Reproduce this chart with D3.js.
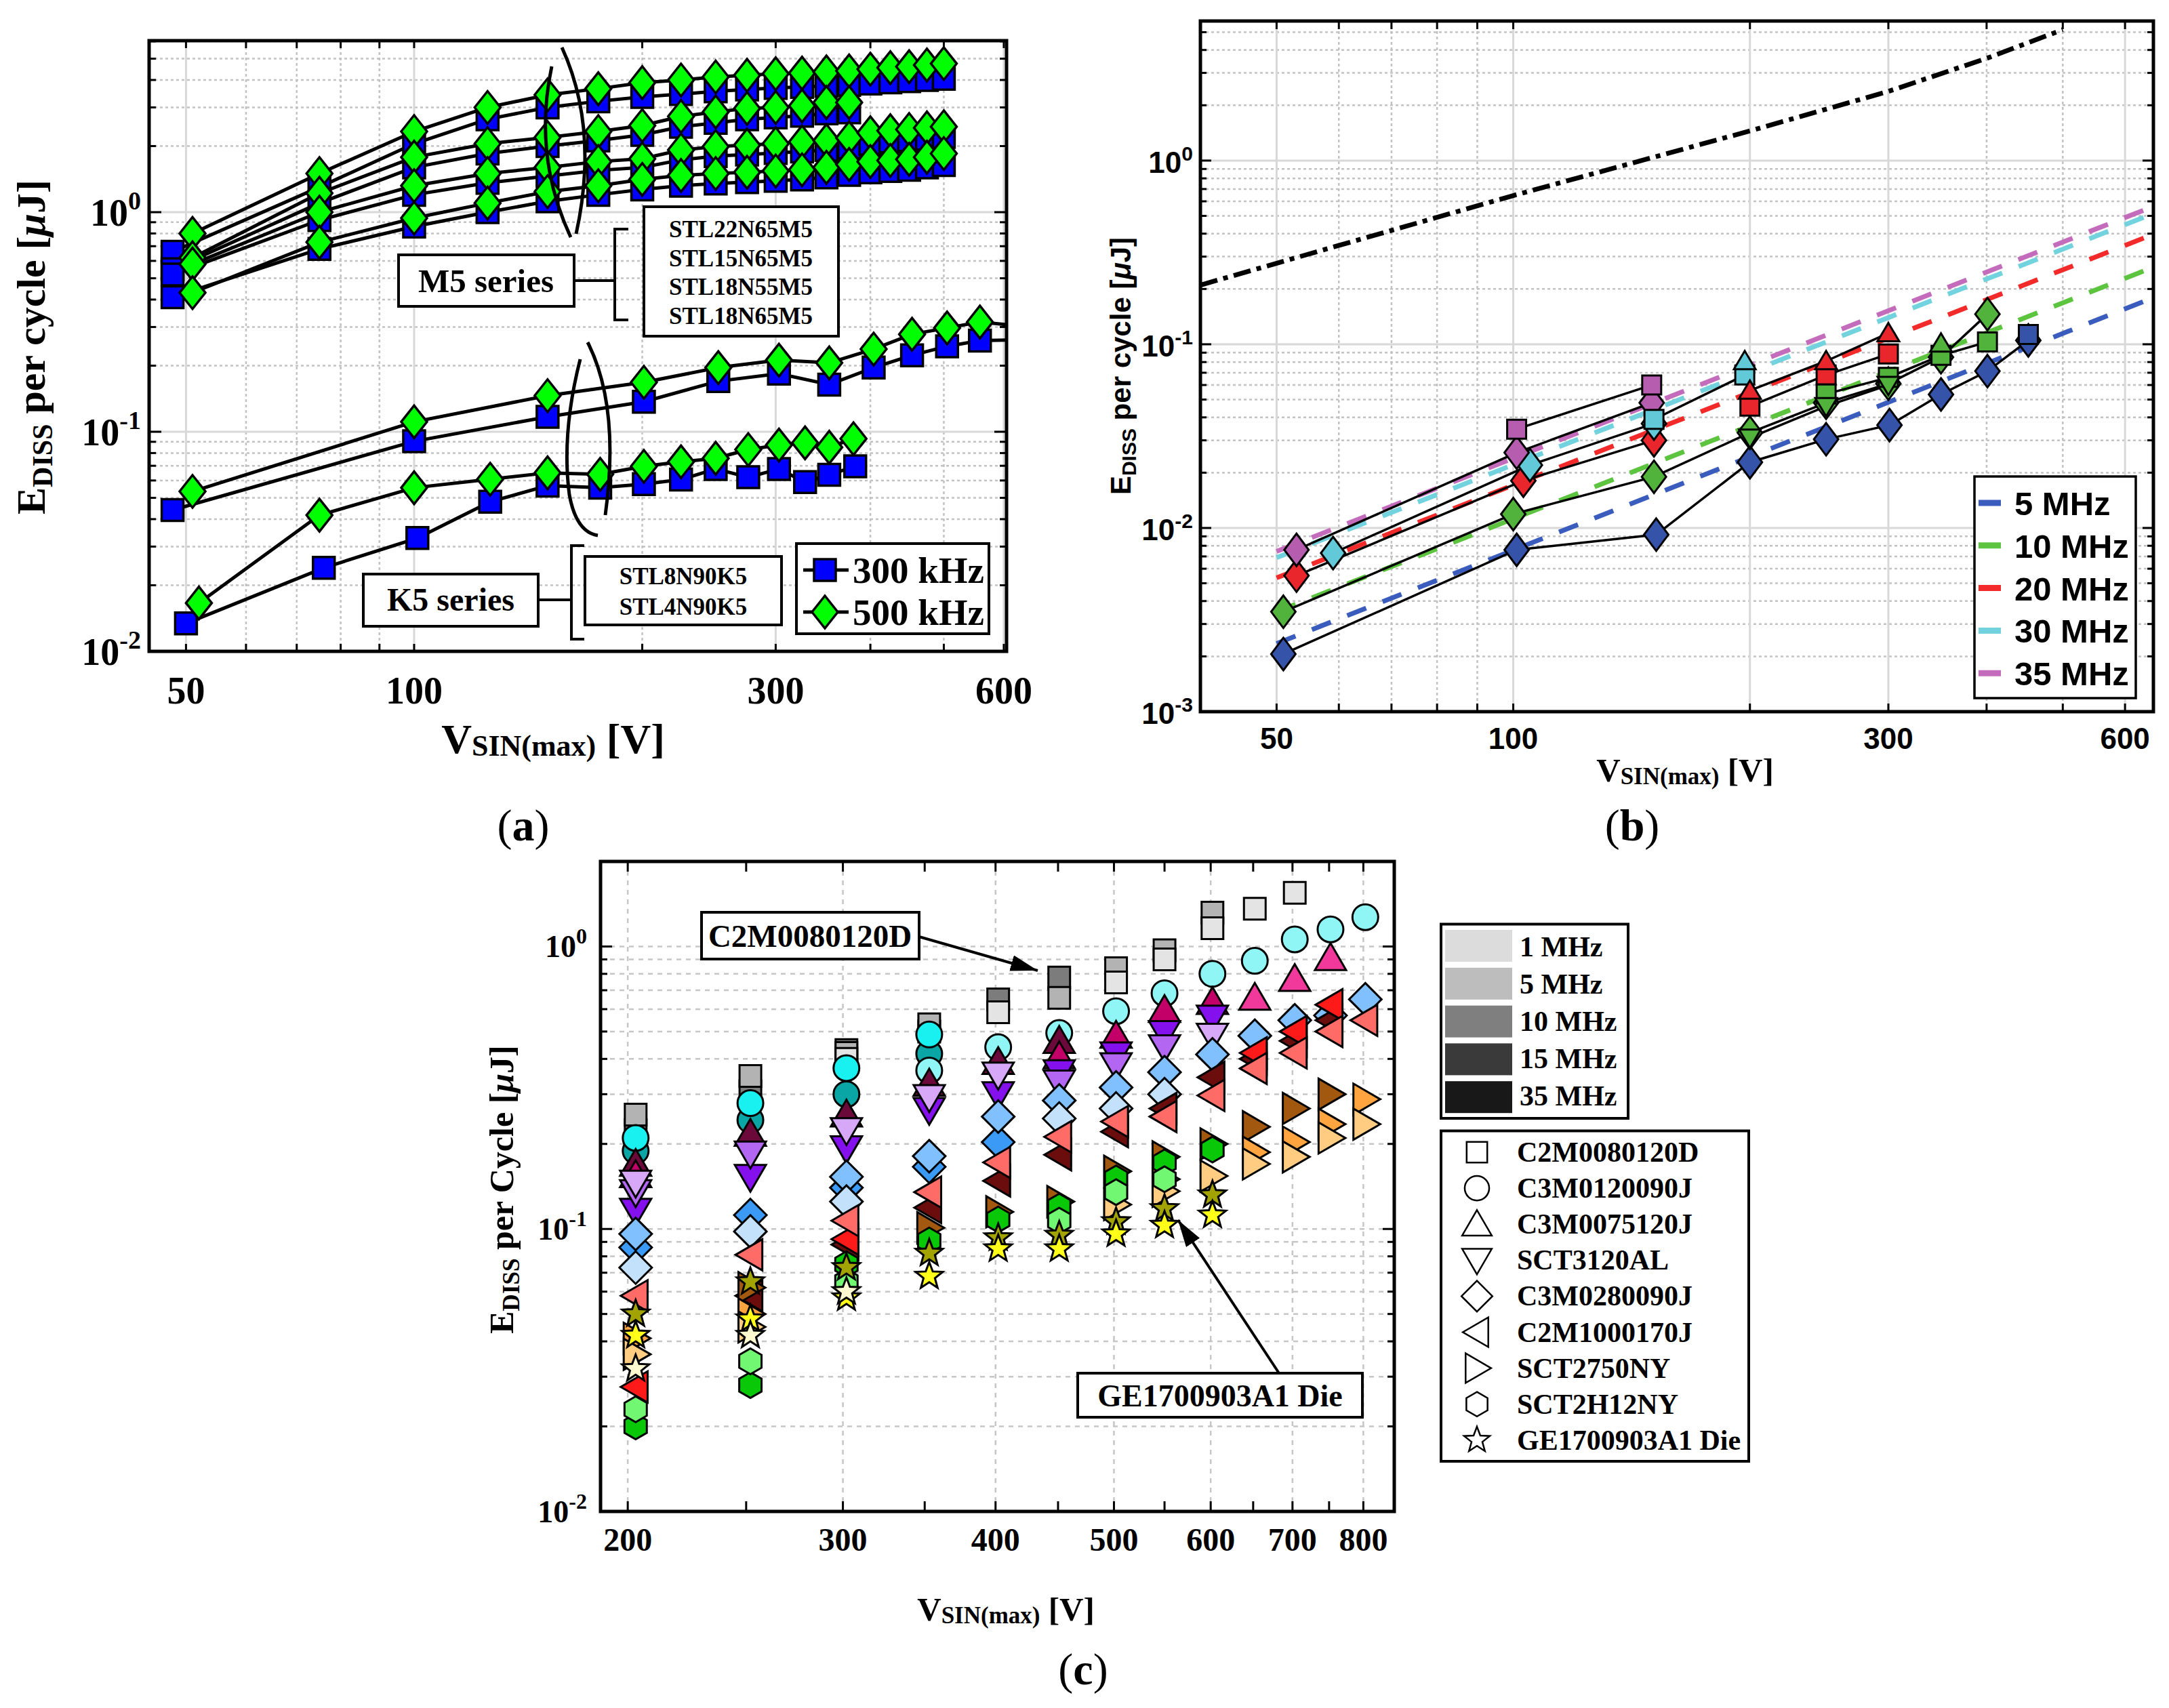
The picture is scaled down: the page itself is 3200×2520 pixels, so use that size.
<!DOCTYPE html>
<html>
<head>
<meta charset="utf-8">
<script src="https://cdn.jsdelivr.net/npm/d3@7"></script>
<style>
  body { margin: 0; background: #fff; }
  svg { display: block; }
</style>
</head>
<body>
<script>
const W = 3200, H = 2520;
const serif = '"Liberation Serif", "Times New Roman", serif';
const sans = '"Liberation Sans", Arial, sans-serif';
const n = null;

// ---------- (a) STL M5 / K5 series, 300 vs 500 kHz ----------
const aMajorX = [50, 100, 300, 600];
const aMinorX = [60, 70, 80, 90, 200, 400, 500];
const aLabelY = [0.01, 0.1, 1];
const m5Volt = [51, 75, 100, 125, 150, 175, 200, 225, 250, 275, 300, 325, 350, 375, 400, 425, 450, 475, 500];
const m5VoltSq = [48, 75, 100, 125, 150, 175, 200, 225, 250, 275, 300, 325, 350, 375, 400, 425, 450, 475, 500];
const m5Dia = [
  [0.80, 1.50, 2.33, 3.00, 3.42, 3.65, 3.89, 4.00, 4.13, 4.20, 4.27, 4.30, 4.35, 4.40, 4.48, 4.55, 4.60, 4.68, 4.75],
  [0.62, 1.22, 1.78, 2.05, 2.19, 2.33, 2.48, 2.73, 2.86, 2.97, 3.00, 3.05, 3.16, 3.16],
  [0.58, 1.00, 1.32, 1.50, 1.60, 1.70, 1.75, 1.92, 1.99, 2.02, 2.05, 2.09, 2.12, 2.18, 2.30, 2.35, 2.38, 2.42, 2.45],
  [0.43, 0.73, 0.94, 1.10, 1.24, 1.32, 1.41, 1.47, 1.50, 1.52, 1.54, 1.56, 1.60, 1.65, 1.70, 1.72, 1.74, 1.78, 1.85]
];
const m5Sq = [
  [0.66, 1.30, 2.05, 2.65, 3.00, 3.20, 3.35, 3.45, 3.55, 3.62, 3.68, 3.72, 3.76, 3.80, 3.85, 3.90, 3.95, 4.00, 4.05],
  [0.55, 1.10, 1.60, 1.85, 2.00, 2.12, 2.25, 2.45, 2.55, 2.65, 2.70, 2.75, 2.82, 2.85],
  [0.52, 0.92, 1.20, 1.36, 1.46, 1.55, 1.60, 1.73, 1.80, 1.83, 1.86, 1.89, 1.92, 1.97, 2.05, 2.10, 2.13, 2.16, 2.20],
  [0.41, 0.68, 0.86, 1.00, 1.12, 1.20, 1.27, 1.32, 1.35, 1.37, 1.39, 1.41, 1.44, 1.48, 1.52, 1.54, 1.56, 1.60, 1.64]
];
const k5VoltDia = [
  [51, 100, 150, 201, 252, 303, 353, 404, 454, 505, 558, 620],
  [52, 75, 100, 126, 150, 176, 201, 225, 250, 276, 303, 328, 353, 380]
];
const k5VoltSq = [
  [48, 100, 150, 201, 252, 303, 353, 404, 454, 505, 558, 620],
  [50, 76, 101, 126, 150, 176, 201, 225, 250, 276, 303, 328, 353, 382]
];
const k5Dia = [
  [0.0535, 0.111, 0.146, 0.168, 0.196, 0.212, 0.206, 0.238, 0.278, 0.297, 0.316, 0.305],
  [0.0166, 0.0417, 0.0556, 0.0608, 0.065, 0.064, 0.0696, 0.073, 0.0757, 0.083, 0.087, 0.089, 0.085, 0.093]
];
const k5Sq = [
  [0.0440, 0.0905, 0.117, 0.137, 0.170, 0.184, 0.164, 0.196, 0.223, 0.245, 0.260, 0.262],
  [0.0134, 0.024, 0.0328, 0.048, 0.0568, 0.0556, 0.0578, 0.0606, 0.0677, 0.0621, 0.0677, 0.059, 0.0637, 0.0696]
];
const m5Names = ['STL22N65M5', 'STL15N65M5', 'STL18N55M5', 'STL18N65M5'];
const k5Names = ['STL8N90K5', 'STL4N90K5'];
const aLegend = ['300 kHz', '500 kHz'];

// ---------- (b) GaN/SiC at MHz, fitted trends ----------
const bMajorX = [50, 100, 200, 300, 600];
const bMinorX = [60, 70, 80, 90, 400, 500];
const bLabelX = [50, 100, 300, 600];
const bLabelY = [0.001, 0.01, 0.1, 1];
const bFreqs = ['5 MHz', '10 MHz', '20 MHz', '30 MHz', '35 MHz'];
const bFill = ['#3553a8', '#52b33c', '#e8262b', '#62c9d8', '#b65db0'];
const bDash = ['#3a5cbc', '#5cc43e', '#f22a2a', '#72d2de', '#c46cbc'];
const bFitVolt = [50, 660];
const bFitVals = [[0.00235, 0.183], [0.0035, 0.268], [0.00535, 0.405], [0.0069, 0.525], [0.00745, 0.575]];
const bLimitVolt = [40, 100, 200, 300, 400, 500];
const bLimitVals = [0.21, 0.645, 1.45, 2.38, 3.6, 5.16];
const bShape = ['diamond', 'diamond', 'diamond', 'diamond', 'diamond', 'square', 'square', 'square', 'square', 'square', 'triUp', 'triUp', 'triUp', 'triDown'];
const bFreqIdx = [0, 1, 2, 3, 4, 4, 3, 2, 1, 0, 3, 2, 1, 1];
const bVolt = [
  [51, 101, 152, 200, 250, 301, 350, 401, 452],
  [51, 100, 151, 200, 250, 300, 350, 401],
  [53, 103, 151],
  [59, 105, 151],
  [53, 101, 150],
  [101, 150],
  [151, 197],
  [200, 250, 300],
  [250, 300, 350, 401],
  [452],
  [197],
  [200, 250, 300],
  [350],
  [200, 250, 300]
];
const bVals = [
  [0.00206, 0.0076, 0.0092, 0.0228, 0.0304, 0.0363, 0.0533, 0.0714, 0.105],
  [0.0035, 0.0119, 0.019, 0.033, 0.048, 0.061, 0.085, 0.146],
  [0.0055, 0.0181, 0.030],
  [0.0073, 0.022, 0.037],
  [0.0076, 0.0257, 0.048],
  [0.0345, 0.060],
  [0.039, 0.068],
  [0.046, 0.068, 0.0885],
  [0.0536, 0.066, 0.087, 0.103],
  [0.113],
  [0.081],
  [0.056, 0.081, 0.115],
  [0.101],
  [0.031, 0.046, 0.060]
];

// ---------- (c) SiC devices, 200-800 V ----------
const cGridX = [200, 300, 400, 500, 600, 700, 800];
const cTickX = [200, 250, 300, 350, 400, 450, 500, 550, 600, 650, 700, 750, 800];
const cLabelY = [0.01, 0.1, 1];
const cVolt = [203, 252, 302, 353, 402, 451, 502, 550, 602, 652, 703, 752, 803];
const cDevices = ['C2M0080120D', 'C3M0120090J', 'C3M0075120J', 'SCT3120AL', 'C3M0280090J', 'C2M1000170J', 'SCT2750NY', 'SCT2H12NY', 'GE1700903A1 Die'];
const cShapes = ['square', 'circle', 'triUp', 'triDown', 'diamond', 'triLeft', 'triRight', 'hexagon', 'star'];
const cShades = [
  ['#e4e4e4', '#b3b3b3', '#7c7c7c'],
  ['#8ff5f5', '#19f0f0', '#0aa6a6'],
  ['#f0399a', '#c20068', '#6b0a3a'],
  ['#d7a8f7', '#b266f2', '#8410ee'],
  ['#c3e1fb', '#80c0ff', '#3a9af5'],
  ['#ff6b66', '#ff1a1a', '#6b0d0d'],
  ['#ffcc82', '#ffa43f', '#a3580f'],
  ['#72f772', '#08c808'],
  ['#fffad0', '#ffff1a', '#a3a300']
];
const cSquare = [
  [n, n, 0.40, n, 0.585, n, 0.746, 0.90, 1.16, 1.36, 1.55, n, n],
  [0.254, 0.348, 0.42, 0.53, n, 0.658, 0.838, 0.97, 1.318, n, n, n, n],
  [0.224, 0.307, 0.43, 0.50, 0.65, 0.776, n, n, n, n, n, n, n]
];
const cCircle = [
  [n, n, n, 0.364, 0.44, 0.494, 0.59, 0.683, 0.80, 0.89, 1.06, 1.15, 1.27],
  [0.21, 0.279, 0.371, 0.488, n, n, n, n, n, n, n, n, n],
  [0.189, 0.243, 0.30, 0.417, n, n, n, n, n, n, n, n, n]
];
const cTriUp = [
  [n, n, n, n, n, n, n, n, n, 0.658, 0.767, 0.91, n],
  [0.155, n, n, n, n, 0.408, 0.483, 0.596, 0.636, n, n, n, n],
  [0.17, 0.217, 0.254, 0.327, 0.39, 0.463, n, n, n, n, n, n, n]
];
const cTriDown = [
  [0.146, n, 0.224, 0.293, 0.352, n, n, n, 0.483, n, n, n, n],
  [0.135, 0.185, n, n, n, 0.33, 0.38, 0.44, n, n, n, n, n],
  [0.116, 0.153, 0.193, 0.264, 0.30, 0.359, 0.415, 0.494, 0.56, n, n, n, n]
];
const cDiamond = [
  [0.073, 0.098, 0.125, n, n, 0.246, 0.267, 0.30, n, n, n, n, n],
  [0.096, n, 0.153, 0.181, 0.25, 0.285, 0.317, 0.359, 0.415, 0.483, 0.548, 0.57, 0.65],
  [0.086, 0.112, 0.14, 0.166, 0.203, n, n, n, n, n, n, n, n]
];
const cTriLeft = [
  [0.058, 0.081, 0.107, 0.135, 0.172, 0.212, 0.24, 0.25, 0.297, 0.37, 0.42, 0.50, 0.548],
  [0.0276, n, 0.092, n, n, n, n, n, n, 0.42, 0.50, 0.622, n],
  [n, 0.058, 0.088, 0.119, 0.148, 0.183, 0.221, 0.267, 0.344, 0.40, 0.463, 0.548, n]
];
const cTriRight = [
  [0.036, 0.045, n, n, n, n, 0.122, 0.136, 0.154, 0.17, 0.18, 0.21, 0.235],
  [0.041, 0.050, n, n, n, n, n, 0.15, n, 0.187, 0.203, 0.235, 0.288],
  [n, 0.062, n, 0.101, 0.115, 0.125, 0.16, 0.18, 0.20, 0.23, 0.267, 0.30, n]
];
const cHexagon = [
  [0.023, 0.034, 0.065, n, n, 0.107, 0.135, 0.15, n, n, n, n, n],
  [0.020, 0.028, 0.075, 0.091, 0.108, 0.12, 0.151, 0.172, 0.191, n, n, n, n]
];
const cStar = [
  [0.032, 0.042, 0.060, n, n, n, n, n, n, n, n, n, n],
  [0.042, 0.048, 0.057, 0.068, 0.085, 0.085, 0.096, 0.103, 0.112, n, n, n, n],
  [0.050, 0.065, 0.073, 0.082, 0.093, 0.095, 0.106, 0.118, 0.132, n, n, n, n]
];
const cDeviceVals = [cSquare, cCircle, cTriUp, cTriDown, cDiamond, cTriLeft, cTriRight, cHexagon, cStar];
const cFreqs = ['1 MHz', '5 MHz', '10 MHz', '15 MHz', '35 MHz'];
const cFreqGray = ['#dcdcdc', '#bdbdbd', '#7f7f7f', '#3a3a3a', '#181818'];

// ---------- helpers ----------
const svg = d3.select('body').append('svg').attr('width', W).attr('height', H);
svg.append('rect').attr('width', W).attr('height', H).attr('fill', '#fff');
const defs = svg.append('defs');
defs.append('marker').attr('id', 'arrow').attr('viewBox', '0 0 40 24')
  .attr('refX', 40).attr('refY', 12).attr('markerWidth', 40).attr('markerHeight', 24)
  .attr('markerUnits', 'userSpaceOnUse').attr('orient', 'auto')
  .append('path').attr('d', 'M0,0L40,12L0,24Z').attr('fill', '#000');

function shape(type, rx, ry = rx) {
  const p = d3.path();
  if (type === 'square') p.rect(-rx, -ry, 2 * rx, 2 * ry);
  else if (type === 'circle') { p.moveTo(rx, 0); p.arc(0, 0, rx, 0, 2 * Math.PI); }
  else if (type === 'diamond') { p.moveTo(0, -ry); p.lineTo(rx, 0); p.lineTo(0, ry); p.lineTo(-rx, 0); p.closePath(); }
  else if (type === 'triUp') { p.moveTo(0, -ry); p.lineTo(rx, 0.8 * ry); p.lineTo(-rx, 0.8 * ry); p.closePath(); }
  else if (type === 'triDown') { p.moveTo(0, ry); p.lineTo(rx, -0.8 * ry); p.lineTo(-rx, -0.8 * ry); p.closePath(); }
  else if (type === 'triLeft') { p.moveTo(-rx, 0); p.lineTo(0.8 * rx, -ry); p.lineTo(0.8 * rx, ry); p.closePath(); }
  else if (type === 'triRight') { p.moveTo(rx, 0); p.lineTo(-0.8 * rx, -ry); p.lineTo(-0.8 * rx, ry); p.closePath(); }
  else if (type === 'hexagon' || type === 'star') {
    const k = type === 'hexagon' ? 6 : 10;
    for (let i = 0; i < k; i++) {
      const a = -Math.PI / 2 + i * 2 * Math.PI / k;
      const r = type === 'star' && i % 2 ? rx * 0.42 : rx;
      if (i) p.lineTo(r * Math.cos(a), r * Math.sin(a)); else p.moveTo(r * Math.cos(a), r * Math.sin(a));
    }
    p.closePath();
  }
  return p.toString();
}
const shapeSizeC = { square: [16, 16], circle: [19, 19], triUp: [23, 22], triDown: [23, 22], diamond: [24, 24], triLeft: [22, 23], triRight: [22, 23], hexagon: [19, 19], star: [21, 21] };

function logSteps(lo, hi) {
  const out = [];
  for (let e = Math.floor(Math.log10(lo)); e <= Math.ceil(Math.log10(hi)); e++)
    for (let k = 1; k < 10; k++) {
      const v = +(k * Math.pow(10, e)).toPrecision(3);
      if (v >= lo * 0.999 && v <= hi * 1.001) out.push(v);
    }
  return out;
}
const isDecade = v => Math.abs(Math.log10(v) - Math.round(Math.log10(v))) < 1e-6;

function gridLines(g, x, y, vals, dir, st) {
  const [x0, x1] = x.range(), [y0, y1] = y.range();
  g.append('g').selectAll('line').data(vals).join('line')
    .attr('x1', d => dir === 'x' ? x(d) : x0).attr('x2', d => dir === 'x' ? x(d) : x1)
    .attr('y1', d => dir === 'x' ? y0 : y(d)).attr('y2', d => dir === 'x' ? y1 : y(d))
    .attr('stroke', st.color).attr('stroke-width', st.width).attr('stroke-dasharray', st.dash || null);
}
function tickMarks(g, x, y, vals, dir, len, width) {
  const [x0, x1] = x.range(), [y0, y1] = y.range();
  const t = g.append('g').attr('stroke', '#000').attr('stroke-width', width);
  vals.forEach(v => {
    const L = typeof len === 'function' ? len(v) : len;
    if (dir === 'x') {
      t.append('line').attr('x1', x(v)).attr('x2', x(v)).attr('y1', y0).attr('y2', y0 - L);
      t.append('line').attr('x1', x(v)).attr('x2', x(v)).attr('y1', y1).attr('y2', y1 + L);
    } else {
      t.append('line').attr('y1', y(v)).attr('y2', y(v)).attr('x1', x0).attr('x2', x0 + L);
      t.append('line').attr('y1', y(v)).attr('y2', y(v)).attr('x1', x1).attr('x2', x1 - L);
    }
  });
}
function powText(sel, v, expSize, rise) {
  sel.append('tspan').text('10');
  sel.append('tspan').attr('font-size', expSize).attr('dy', -rise).text(String(Math.round(Math.log10(v))));
}
function clipRect(id, x, y) {
  const [x0, x1] = x.range(), [y0, y1] = y.range();
  defs.append('clipPath').attr('id', id).append('rect')
    .attr('x', x0).attr('y', y1).attr('width', x1 - x0).attr('height', y0 - y1);
}
function frame(g, x, y, w) {
  const [x0, x1] = x.range(), [y0, y1] = y.range();
  g.append('rect').attr('x', x0).attr('y', y1).attr('width', x1 - x0).attr('height', y0 - y1)
    .attr('fill', 'none').attr('stroke', '#000').attr('stroke-width', w);
}
function box(g, x, y, w, h, sw) {
  g.append('rect').attr('x', x).attr('y', y).attr('width', w).attr('height', h)
    .attr('fill', '#fff').attr('stroke', '#000').attr('stroke-width', sw);
}
function label(g, x, y, txt, size, fam, anchor = 'middle') {
  return g.append('text').attr('x', x).attr('y', y).attr('text-anchor', anchor)
    .attr('font-family', fam).attr('font-weight', 'bold').attr('font-size', size).text(txt);
}
function caption(g, x, y, letter) {
  const t = g.append('text').attr('x', x).attr('y', y).attr('text-anchor', 'middle')
    .attr('font-family', serif).attr('font-size', 66);
  t.append('tspan').text('(');
  t.append('tspan').attr('font-weight', 'bold').text(letter);
  t.append('tspan').text(')');
}
function vLabel(g, x, y, big, small) {
  const t = g.append('text').attr('x', x).attr('y', y).attr('text-anchor', 'middle')
    .attr('font-family', serif).attr('font-weight', 'bold').attr('font-size', big);
  t.append('tspan').text('V');
  t.append('tspan').attr('font-size', small).attr('dy', 4).text('SIN(max)');
  t.append('tspan').attr('dy', -4).text(' [V]');
}
function eLabel(g, x, y, big, small, fam, word) {
  const t = g.append('text').attr('transform', `translate(${x},${y}) rotate(-90)`).attr('text-anchor', 'middle')
    .attr('font-family', fam).attr('font-weight', 'bold').attr('font-size', big);
  t.append('tspan').text('E');
  t.append('tspan').attr('font-size', small).attr('dy', big * 0.18).text('DISS');
  t.append('tspan').attr('dy', -big * 0.18).text(` per ${word} [`);
  t.append('tspan').attr('font-style', 'italic').text('μ');
  t.append('tspan').text('J]');
}
const pairs = (volts, vals) => vals.map((v, i) => [volts[i], v]).filter(d => d[1] != null);

// ================= panel (a) =================
const gA = svg.append('g');
const xA = d3.scaleLog().domain([44.7, 605]).range([220, 1485]);
const yA = d3.scaleLog().domain([0.01, 6.04]).range([961, 60]);
const dotA = { color: '#c2c2c2', width: 2.5, dash: '4 4' };
const solidA = { color: '#d8d8d8', width: 3 };
gridLines(gA, xA, yA, aMinorX, 'x', dotA);
gridLines(gA, xA, yA, logSteps(0.01, 6.04).filter(v => !isDecade(v)), 'y', dotA);
gridLines(gA, xA, yA, aMajorX, 'x', solidA);
gridLines(gA, xA, yA, aLabelY, 'y', solidA);
clipRect('clipA', xA, yA);
const plotA = gA.append('g').attr('clip-path', 'url(#clipA)');
const lineA = d3.line().x(d => xA(d[0])).y(d => yA(d[1]));
const aSqSets = m5Sq.map(v => pairs(m5VoltSq, v)).concat(k5Sq.map((v, i) => pairs(k5VoltSq[i], v)));
const aDiaSets = m5Dia.map(v => pairs(m5Volt, v)).concat(k5Dia.map((v, i) => pairs(k5VoltDia[i], v)));
aSqSets.concat(aDiaSets).forEach(pts => {
  plotA.append('path').attr('d', lineA(pts)).attr('fill', 'none').attr('stroke', '#000').attr('stroke-width', 5);
});
aSqSets.forEach(pts => {
  plotA.selectAll(null).data(pts.filter(d => d[0] <= 605)).join('path')
    .attr('transform', d => `translate(${xA(d[0])},${yA(d[1])})`)
    .attr('d', shape('square', 16)).attr('fill', '#0000ff').attr('stroke', '#000').attr('stroke-width', 3.5);
});
aDiaSets.forEach(pts => {
  plotA.selectAll(null).data(pts.filter(d => d[0] <= 605)).join('path')
    .attr('transform', d => `translate(${xA(d[0])},${yA(d[1])})`)
    .attr('d', shape('diamond', 19, 24)).attr('fill', '#00ff00').attr('stroke', '#000').attr('stroke-width', 3.5);
});
// group brackets
const arcA = gA.append('g').attr('fill', 'none').attr('stroke', '#000').attr('stroke-width', 5);
arcA.append('path').attr('d', 'M829,70 Q884,190 850,345');
arcA.append('path').attr('d', 'M814,98 Q786,230 842,350');
arcA.append('path').attr('d', 'M867,505 Q915,600 893,760');
arcA.append('path').attr('d', 'M856,530 Q828,640 840,730 Q850,785 882,790');
// M5 annotation
box(gA, 588, 376, 259, 76, 4);
label(gA, 717, 431, 'M5 series', 49, serif);
arcA.append('path').attr('d', 'M847,414 H907 M927,338 H907 V472 H927').attr('stroke-width', 4);
box(gA, 950, 305, 287, 191, 4);
m5Names.forEach((s, i) => label(gA, 1093, 350 + i * 42.5, s, 35, serif));
// K5 annotation
box(gA, 536, 847, 258, 77, 4);
label(gA, 665, 901, 'K5 series', 48, serif);
arcA.append('path').attr('d', 'M794,885 H843 M862,805 H843 V943 H862').attr('stroke-width', 4);
box(gA, 863, 821, 290, 101, 4);
k5Names.forEach((s, i) => label(gA, 1008, 862 + i * 45, s, 35, serif));
// legend (a)
box(gA, 1175, 802, 284, 133, 4);
aLegend.forEach((s, i) => {
  const yy = 841 + i * 62;
  gA.append('line').attr('x1', 1185).attr('x2', 1252).attr('y1', yy).attr('y2', yy).attr('stroke', '#000').attr('stroke-width', 5);
  gA.append('path').attr('transform', `translate(1217,${yy})`)
    .attr('d', i ? shape('diamond', 19, 24) : shape('square', 16))
    .attr('fill', i ? '#00ff00' : '#0000ff').attr('stroke', '#000').attr('stroke-width', 3.5);
  label(gA, 1258, yy + 19, s, 55, serif, 'start');
});
frame(gA, xA, yA, 5);
tickMarks(gA, xA, yA, aMajorX.concat(aMinorX), 'x', 11, 3);
tickMarks(gA, xA, yA, logSteps(0.01, 6.04), 'y', v => isDecade(v) ? 18 : 10, 3);
aMajorX.forEach(v => label(gA, xA(v), 1038, String(v), 56, serif));
aLabelY.forEach(v => powText(label(gA, 208, yA(v) + 20, '', 56, serif, 'end').text(null), v, 38, 24));
vLabel(gA, 816, 1111, 62, 44);
eLabel(gA, 66, 512, 60, 42, serif, 'cycle');
caption(gA, 772, 1240, 'a');

// ================= panel (b) =================
const gB = svg.append('g');
const xB = d3.scaleLog().domain([40, 652]).range([1771, 3177]);
const yB = d3.scaleLog().domain([0.001, 5.75]).range([1050, 31]);
gridLines(gB, xB, yB, bMinorX, 'x', dotA);
gridLines(gB, xB, yB, logSteps(0.001, 5.75).filter(v => !isDecade(v)), 'y', dotA);
gridLines(gB, xB, yB, bMajorX, 'x', solidA);
gridLines(gB, xB, yB, bLabelY, 'y', solidA);
clipRect('clipB', xB, yB);
const plotB = gB.append('g').attr('clip-path', 'url(#clipB)');
const lineB = d3.line().x(d => xB(d[0])).y(d => yB(d[1]));
plotB.append('path').attr('d', lineB(pairs(bLimitVolt, bLimitVals))).attr('fill', 'none')
  .attr('stroke', '#000').attr('stroke-width', 7).attr('stroke-dasharray', '26 9 7 9');
bFitVals.forEach((v, i) => {
  plotB.append('path').attr('d', lineB(pairs(bFitVolt, v))).attr('fill', 'none')
    .attr('stroke', bDash[i]).attr('stroke-width', 7).attr('stroke-dasharray', '30 26');
});
bVals.forEach((v, i) => {
  plotB.append('path').attr('d', lineB(pairs(bVolt[i], v))).attr('fill', 'none').attr('stroke', '#000').attr('stroke-width', 3.5);
});
bVals.forEach((v, i) => {
  const s = bShape[i];
  const d = s === 'diamond' ? shape(s, 18, 24) : s === 'square' ? shape(s, 14) : shape(s, 16, 15);
  plotB.selectAll(null).data(pairs(bVolt[i], v)).join('path')
    .attr('transform', p => `translate(${xB(p[0])},${yB(p[1])})`)
    .attr('d', d).attr('fill', bFill[bFreqIdx[i]]).attr('stroke', '#000').attr('stroke-width', 3);
});
// legend (b)
box(gB, 2913, 703, 238, 327, 3.5);
bFreqs.forEach((s, i) => {
  const yy = 742 + i * 62.8;
  gB.append('line').attr('x1', 2919).attr('x2', 2952).attr('y1', yy).attr('y2', yy).attr('stroke', bDash[i]).attr('stroke-width', 9);
  label(gB, 2972, yy + 18, s, 49, sans, 'start');
});
frame(gB, xB, yB, 5);
tickMarks(gB, xB, yB, bMajorX.concat(bMinorX), 'x', 12, 3);
tickMarks(gB, xB, yB, logSteps(0.001, 5.75), 'y', v => isDecade(v) ? 16 : 9, 3);
bLabelX.forEach(v => label(gB, xB(v), 1105, String(v), 44, sans));
bLabelY.forEach(v => powText(label(gB, 1760, yB(v) + 18, '', 44, sans, 'end').text(null), v, 30, 18));
vLabel(gB, 2486, 1153, 49, 35);
eLabel(gB, 1668, 540, 42, 30, sans, 'cycle');
caption(gB, 2408, 1240, 'b');

// ================= panel (c) =================
const gC = svg.append('g');
const xC = d3.scaleLog().domain([190, 848]).range([886, 2057]);
const yC = d3.scaleLog().domain([0.01, 2]).range([2230, 1271]);
const dashC = { color: '#c6c6c6', width: 2.5, dash: '7 7' };
gridLines(gC, xC, yC, cGridX, 'x', dashC);
gridLines(gC, xC, yC, logSteps(0.01, 2), 'y', dashC);
clipRect('clipC', xC, yC);
const plotC = gC.append('g').attr('clip-path', 'url(#clipC)');
cDevices.forEach((name, di) => {
  const rows = cDeviceVals[di], s = cShapes[di], sz = shapeSizeC[s];
  for (let r = rows.length - 1; r >= 0; r--) {
    plotC.selectAll(null).data(pairs(cVolt, rows[r])).join('path')
      .attr('transform', d => `translate(${xC(d[0])},${yC(d[1])})`)
      .attr('d', shape(s, sz[0], sz[1])).attr('fill', cShades[di][r])
      .attr('stroke', '#000').attr('stroke-width', 3);
  }
});
// annotations (c)
gC.append('line').attr('x1', 1356).attr('y1', 1382).attr('x2', 1531).attr('y2', 1432)
  .attr('stroke', '#000').attr('stroke-width', 4).attr('marker-end', 'url(#arrow)');
box(gC, 1035, 1346, 321, 69, 4);
label(gC, 1195, 1397, 'C2M0080120D', 47, serif);
gC.append('line').attr('x1', 1887).attr('y1', 2026).attr('x2', 1738).attr('y2', 1800)
  .attr('stroke', '#000').attr('stroke-width', 4).attr('marker-end', 'url(#arrow)');
box(gC, 1590, 2026, 420, 65, 4);
label(gC, 1800, 2075, 'GE1700903A1 Die', 46, serif);
// legends (c)
box(gC, 2126, 1363.5, 276, 286.5, 4);
cFreqs.forEach((s, i) => {
  gC.append('rect').attr('x', 2132).attr('y', 1372 + i * 55.8).attr('width', 99).attr('height', 47).attr('fill', cFreqGray[i]);
  label(gC, 2242, 1411 + i * 55, s, 42, serif, 'start');
});
box(gC, 2126, 1668.5, 454, 487.5, 4);
cDevices.forEach((s, i) => {
  const yy = 1700 + i * 53.1, sh = cShapes[i], sz = shapeSizeC[sh];
  gC.append('path').attr('transform', `translate(2179,${yy})`).attr('d', shape(sh, sz[0] * 0.95, sz[1] * 0.95))
    .attr('fill', 'none').attr('stroke', '#000').attr('stroke-width', 2.5);
  label(gC, 2238, yy + 14, s, 42, serif, 'start');
});
frame(gC, xC, yC, 5);
tickMarks(gC, xC, yC, cTickX, 'x', 15, 3);
tickMarks(gC, xC, yC, logSteps(0.01, 2), 'y', v => isDecade(v) ? 17 : 10, 3);
cGridX.forEach(v => label(gC, xC(v), 2288, String(v), 48, serif));
cLabelY.forEach(v => powText(label(gC, 866, yC(v) + 16, '', 46, serif, 'end').text(null), v, 32, 20));
vLabel(gC, 1484, 2391, 49, 35);
eLabel(gC, 757, 1755, 50, 35, serif, 'Cycle');
caption(gC, 1598, 2485, 'c');
</script>
</body>
</html>
